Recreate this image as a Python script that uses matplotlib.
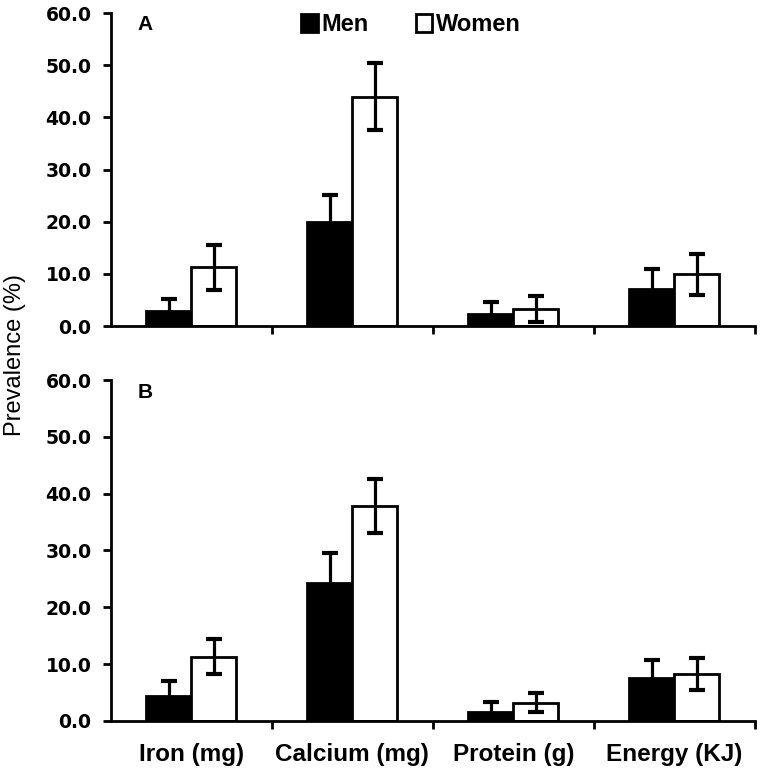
import numpy as np
import matplotlib
matplotlib.use("Agg")
import matplotlib.pyplot as plt
from matplotlib.ticker import FormatStrFormatter, FixedLocator

plt.rcParams['font.family'] = ['Liberation Sans', 'DejaVu Sans']

nutrients = ["Iron (mg)", "Calcium (mg)", "Protein (g)", "Energy (KJ)"]

# panel A
men_a = [2.9, 19.9, 2.4, 7.1]
men_a_err = [2.3, 5.2, 2.2, 3.8]
women_a = [11.3, 44.0, 3.3, 9.9]
women_a_err = [4.3, 6.5, 2.5, 4.0]

# panel B
men_b = [4.3, 24.2, 1.5, 7.6]
men_b_err = [2.7, 5.4, 1.8, 3.2]
women_b = [11.3, 37.8, 3.2, 8.3]
women_b_err = [3.1, 4.8, 1.7, 2.8]

fig = plt.figure(figsize=(7.6, 7.71), dpi=100)
ax_a = fig.add_axes([0.146, 0.577, 0.847, 0.406])
ax_b = fig.add_axes([0.146, 0.065, 0.847, 0.442])

x = np.arange(len(nutrients))
w = 0.28
lw = 2.0


def draw_panel(ax, men, men_err, women, women_err, tag, show_labels):
    ax.bar(x - w / 2, men, w, color='black', edgecolor='black', linewidth=lw,
           label='Men', zorder=2)
    ax.bar(x + w / 2, women, w, color='white', edgecolor='black', linewidth=lw,
           label='Women', zorder=2)
    ax.errorbar(x - w / 2, men, yerr=men_err, fmt='none', ecolor='black',
                elinewidth=lw + 0.3, capsize=6, capthick=lw + 1.0, zorder=3)
    ax.errorbar(x + w / 2, women, yerr=women_err, fmt='none', ecolor='black',
                elinewidth=lw + 0.3, capsize=6, capthick=lw + 1.0, zorder=3)
    ax.set_xlim(-0.5, 3.5)
    ax.set_ylim(0, 60)
    ax.set_yticks(np.arange(0, 61, 10))
    ax.yaxis.set_major_formatter(FormatStrFormatter('%.1f'))
    for s in ['top', 'right']:
        ax.spines[s].set_visible(False)
    for s in ['left', 'bottom']:
        ax.spines[s].set_linewidth(lw)
    ax.tick_params(axis='y', direction='out', length=6, width=lw, pad=8)
    for t in ax.get_yticklabels():
        t.set_fontfamily('DejaVu Sans')
        t.set_fontweight('bold')
        t.set_fontsize(13.5)
    ax.set_xticks(x)
    ax.xaxis.set_minor_locator(FixedLocator([0.5, 1.5, 2.5, 3.5]))
    ax.tick_params(axis='x', which='major', length=0, pad=16)
    ax.tick_params(axis='x', which='minor', direction='out', length=6, width=lw)
    if show_labels:
        ax.set_xticklabels(nutrients, fontsize=17.5, fontweight='bold')
    else:
        ax.set_xticklabels([])
    ax.text(0.053, 0.963, tag, transform=ax.transAxes, fontsize=15,
            fontweight='bold', va='center', ha='center')


draw_panel(ax_a, men_a, men_a_err, women_a, women_a_err, 'A', False)
draw_panel(ax_b, men_b, men_b_err, women_b, women_b_err, 'B', True)

ax_a.legend(loc='upper center', bbox_to_anchor=(0.466, 1.03), ncol=2,
            frameon=False, handlelength=0.7, handleheight=0.8,
            handletextpad=0.15, columnspacing=2.0, borderaxespad=0,
            prop={'weight': 'bold', 'size': 17})

fig.text(0.02, 0.54, 'Prevalence (%)', rotation=90, fontsize=17,
         va='center', ha='center')

fig.savefig('out.png', dpi=100)
